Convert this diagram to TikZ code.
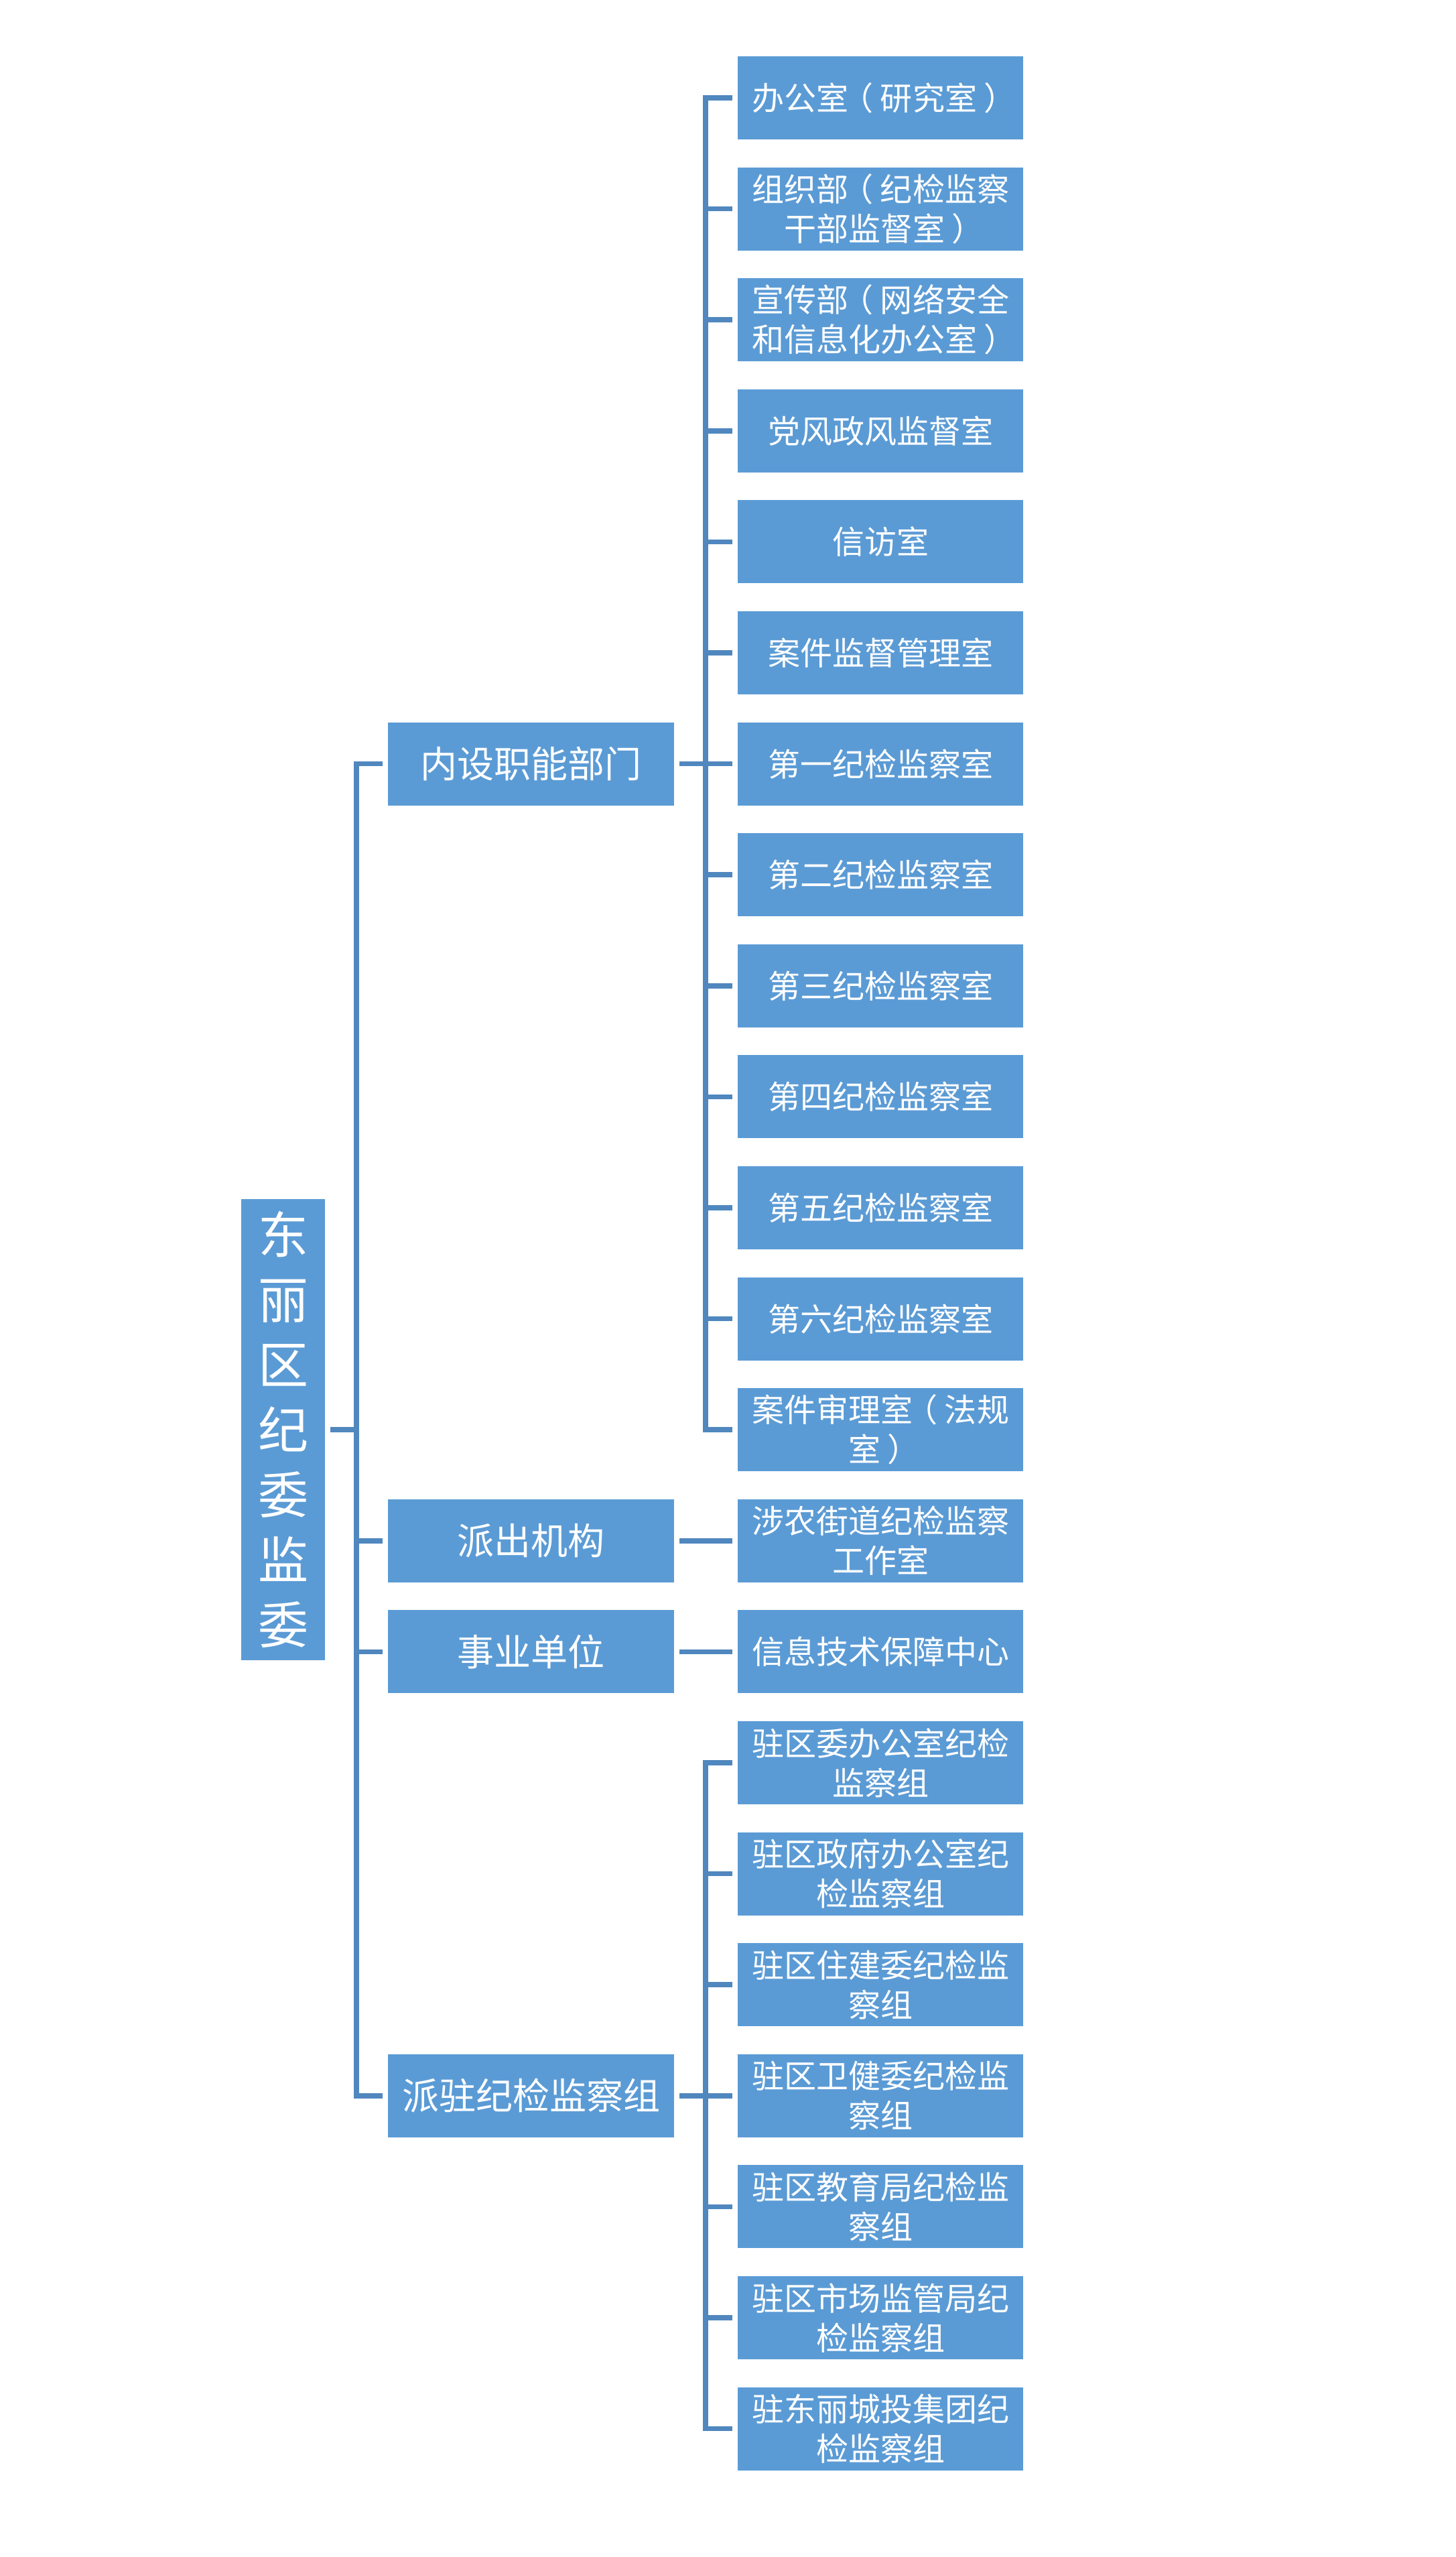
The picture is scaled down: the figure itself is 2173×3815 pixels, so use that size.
\documentclass[tikz,border=0pt]{standalone}
\usepackage{fontspec}
\newfontfamily\cjk{Noto Sans CJK SC}
\definecolor{boxblue}{HTML}{5B9BD5}
\definecolor{lineblue}{HTML}{5087BE}
\newcommand\zlp{\kern-0.22em（\kern0.22em}
\newcommand\zrp{\kern0.22em）\kern-0.22em}
\begin{document}
\begin{tikzpicture}[x=1pt,y=-1pt,
  box/.style={rectangle,fill=boxblue,inner sep=0pt,text=white,align=center},
  leaf/.style={box,minimum width=426pt,minimum height=124pt,font=\cjk\fontsize{48}{59}\selectfont},
  mid/.style={box,minimum width=427pt,minimum height=124pt,font=\cjk\fontsize{55}{64}\selectfont},
  rootbox/.style={box,minimum width=125pt,minimum height=688pt,font=\cjk\fontsize{75}{97}\selectfont},
  conn/.style={draw=lineblue,line width=7.5pt,line join=miter}]
\fill[white] (0,0) rectangle (2173,3815);
\useasboundingbox (0,0) rectangle (2173,3815);

% root
\node[rootbox] (root) at (422.5,2133.2) {东\\丽\\区\\纪\\委\\监\\委};

% middle level
\node[mid] (m1) at (792.5,1139.6) {内设职能部门};
\node[mid] (m2) at (792.5,2298.8) {派出机构};
\node[mid] (m3) at (792.5,2464.4) {事业单位};
\node[mid] (m4) at (792.5,3126.8) {派驻纪检监察组};

% leaves
\node[leaf] (l0)  at (1314,146)    {办公室\zlp 研究室\zrp};
\node[leaf] (l1)  at (1314,311.6)  {组织部\zlp 纪检监察\\干部监督室\zrp};
\node[leaf] (l2)  at (1314,477.2)  {宣传部\zlp 网络安全\\和信息化办公室\zrp};
\node[leaf] (l3)  at (1314,642.8)  {党风政风监督室};
\node[leaf] (l4)  at (1314,808.4)  {信访室};
\node[leaf] (l5)  at (1314,974)    {案件监督管理室};
\node[leaf] (l6)  at (1314,1139.6) {第一纪检监察室};
\node[leaf] (l7)  at (1314,1305.2) {第二纪检监察室};
\node[leaf] (l8)  at (1314,1470.8) {第三纪检监察室};
\node[leaf] (l9)  at (1314,1636.4) {第四纪检监察室};
\node[leaf] (l10) at (1314,1802)   {第五纪检监察室};
\node[leaf] (l11) at (1314,1967.6) {第六纪检监察室};
\node[leaf] (l12) at (1314,2133.2) {案件审理室\zlp 法规\\室\zrp};
\node[leaf] (l13) at (1314,2298.8) {涉农街道纪检监察\\工作室};
\node[leaf] (l14) at (1314,2464.4) {信息技术保障中心};
\node[leaf] (l15) at (1314,2630)   {驻区委办公室纪检\\监察组};
\node[leaf] (l16) at (1314,2795.6) {驻区政府办公室纪\\检监察组};
\node[leaf] (l17) at (1314,2961.2) {驻区住建委纪检监\\察组};
\node[leaf] (l18) at (1314,3126.8) {驻区卫健委纪检监\\察组};
\node[leaf] (l19) at (1314,3292.4) {驻区教育局纪检监\\察组};
\node[leaf] (l20) at (1314,3458)   {驻区市场监管局纪\\检监察组};
\node[leaf] (l21) at (1314,3623.6) {驻东丽城投集团纪\\检监察组};

% bus coordinates
\coordinate (busM) at (532,0);
\coordinate (busA) at (1053,0);

% main bus
\draw[conn] ([xshift=-8pt]m1.west) -| (busM |- m4.west) -- ([xshift=-8pt]m4.west);
\draw[conn] ([xshift=8pt]root.east) -- (busM |- root.east);
\foreach \n in {m2,m3} \draw[conn] (busM |- \n.west) -- ([xshift=-8pt]\n.west);

% bus for internal departments
\draw[conn] ([xshift=-8pt]l0.west) -| (busA |- l12.west) -- ([xshift=-8pt]l12.west);
\draw[conn] ([xshift=8pt]m1.east) -- (busA |- m1.east);
\foreach \i in {1,...,11} \draw[conn] (busA |- l\i.west) -- ([xshift=-8pt]l\i.west);

% single links
\draw[conn] ([xshift=8pt]m2.east) -- ([xshift=-8pt]l13.west);
\draw[conn] ([xshift=8pt]m3.east) -- ([xshift=-8pt]l14.west);

% bus for stationed groups
\draw[conn] ([xshift=-8pt]l15.west) -| (busA |- l21.west) -- ([xshift=-8pt]l21.west);
\draw[conn] ([xshift=8pt]m4.east) -- (busA |- m4.east);
\foreach \i in {16,...,20} \draw[conn] (busA |- l\i.west) -- ([xshift=-8pt]l\i.west);
\end{tikzpicture}
\end{document}
